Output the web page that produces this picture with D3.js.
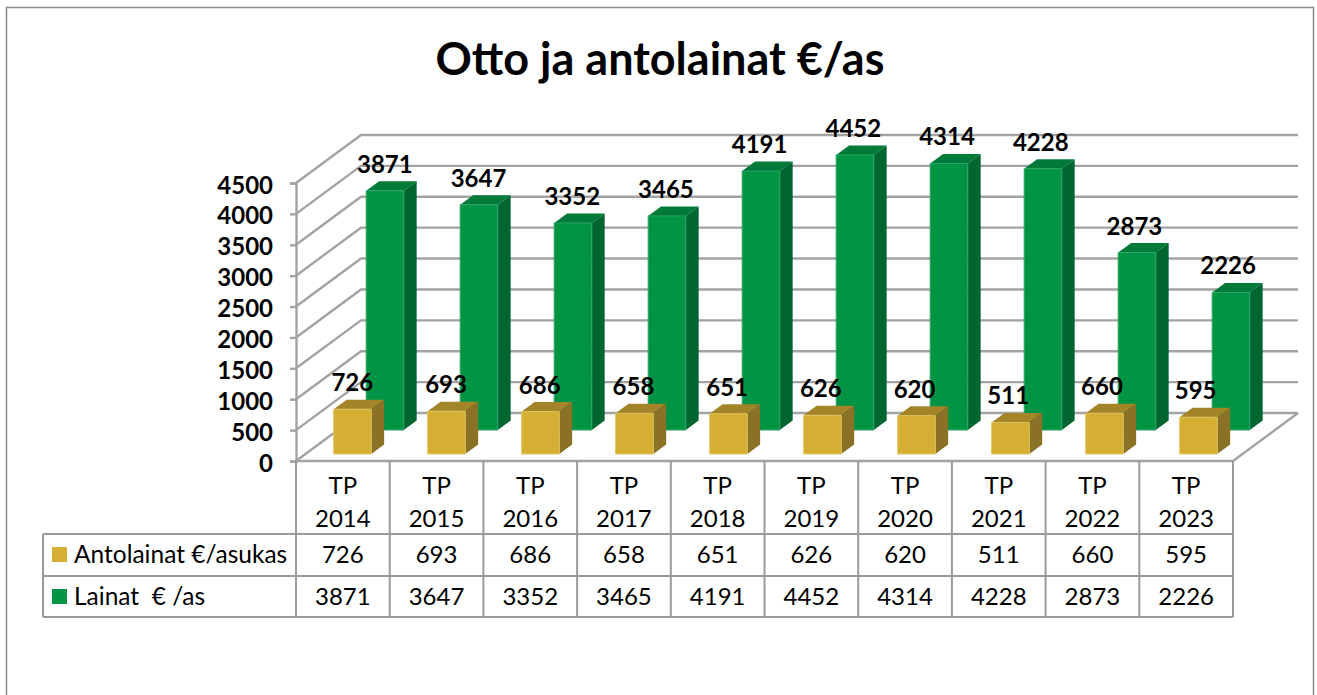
<!DOCTYPE html>
<html>
<head>
<meta charset="utf-8">
<script src="https://cdn.jsdelivr.net/npm/d3@7"></script>
<style>
  html, body { margin: 0; padding: 0; background: #fff; overflow: hidden; }
  svg { display: block; }
  text { font-family: Lato, "Open Sans", sans-serif; fill: #000; }
</style>
</head>
<body>
<svg id="chart" width="1317" height="695"></svg>
<script>
const years = ["2014", "2015", "2016", "2017", "2018", "2019", "2020", "2021", "2022", "2023"];
const antolainat = [726, 693, 686, 658, 651, 626, 620, 511, 660, 595];
const lainat = [3871, 3647, 3352, 3465, 4191, 4452, 4314, 4228, 2873, 2226];
const yTicks = [0, 500, 1000, 1500, 2000, 2500, 3000, 3500, 4000, 4500];
const seriesNames = ["Antolainat €/asukas", "Lainat  € /as"];

const gridColor = "#a3a3a3";
const tableColor = "#9a9a9a";

const svg = d3.select("#chart");

// outer frame, bottom edge falls outside of the picture
svg.append("path")
  .attr("d", "M6.5,695V7.5H1313.5V695")
  .attr("fill", "none")
  .attr("stroke", "#8c8c8c")
  .attr("stroke-width", 1.5);

svg.append("text")
  .attr("x", 660)
  .attr("y", 75)
  .attr("text-anchor", "middle")
  .attr("font-size", 45)
  .attr("font-weight", 700)
  .text("Otto ja antolainat €/as");

const x = d3.scaleBand().domain(years).range([296, 1233]);
// the bars step a little wider than the table columns
const barX = d3.scaleBand().domain(years).range([296, 1236]);
const y = d3.scaleLinear().domain([0, 4500]).range([461, 183]);

// depth of the 3d box: z 0 = front edge, z 1 = back wall
const depthX = 65;
const depthY = -48;
const px = (xv, z) => xv + z * depthX;
const py = (v, z) => y(v) + z * depthY;

// left wall + back wall gridlines
const grid = svg.append("g").attr("fill", "none").attr("stroke", gridColor).attr("stroke-width", 2.4);
yTicks.forEach((t) => {
  grid.append("path")
    .attr("d", d3.line()([[px(296, 0), py(t, 0)], [px(296, 1), py(t, 1)], [px(1233, 1), py(t, 1)]]));
});
// floor right edge
grid.append("path")
  .attr("d", d3.line()([[px(1233, 0), py(0, 0)], [px(1233, 1), py(0, 1)]]));
grid.append("path")
  .attr("d", d3.line()([[px(296, 0), py(0, 0)], [px(1233, 0), py(0, 0)]]));

// value axis
const yAxis = svg.append("g")
  .attr("transform", "translate(296,0)")
  .call(d3.axisLeft(y).tickValues(yTicks).tickSize(6).tickPadding(17).tickFormat(d3.format("d")));
yAxis.selectAll("path, line").attr("stroke", gridColor).attr("stroke-width", 2.4);
yAxis.selectAll("text")
  .attr("dy", "0.42em")
  .attr("font-size", 24)
  .attr("font-weight", 700)
  .attr("font-family", "Lato");

// one 3d bar, front face + top + side
function drawBar(g, year, value, z0, z1, colors) {
  const barW = barX.bandwidth() * 0.4;
  const left = barX(year) + (barX.bandwidth() - barW) / 2;
  const right = left + barW;
  const poly = (pts, fill) => g.append("polygon")
    .attr("points", pts.map((p) => p.join(",")).join(" "))
    .attr("fill", fill);

  poly([[px(left, z0), py(value, z0)], [px(left, z1), py(value, z1)], [px(right, z1), py(value, z1)], [px(right, z0), py(value, z0)]], colors.top);
  poly([[px(right, z0), py(value, z0)], [px(right, z1), py(value, z1)], [px(right, z1), py(0, z1)], [px(right, z0), py(0, z0)]], colors.side);
  poly([[px(left, z0), py(value, z0)], [px(right, z0), py(value, z0)], [px(right, z0), py(0, z0)], [px(left, z0), py(0, z0)]], colors.front)
    .attr("stroke", colors.edge)
    .attr("stroke-width", 1);
}

const greenColors = { front: "#009444", top: "#007a38", side: "#00662f", edge: "#2aa564" };
const goldColors = { front: "#d4af33", top: "#a38428", side: "#8a7125", edge: "#e0c25c" };

const bars = svg.append("g");
years.forEach((yr, i) => drawBar(bars, yr, lainat[i], 0.646, 0.844, greenColors));
years.forEach((yr, i) => drawBar(bars, yr, antolainat[i], 0.146, 0.344, goldColors));

// data labels
const labels = svg.append("g").attr("text-anchor", "middle").attr("font-size", 24).attr("font-weight", 700);
years.forEach((yr, i) => {
  const cx = x(yr) + x.bandwidth() / 2;
  labels.append("text").attr("x", px(cx, 0.646)).attr("y", py(lainat[i], 0.646) - 18).text(lainat[i]);
  labels.append("text").attr("x", px(cx, 0.146)).attr("y", py(antolainat[i], 0.146) - 18).text(antolainat[i]);
});

// data table under the chart
const rowY = [461, 534, 576, 617];
const table = svg.append("g").attr("stroke", tableColor).attr("stroke-width", 2).attr("fill", "none");
[...years.map((d) => x(d)), 1233].forEach((lx) => {
  table.append("line").attr("x1", lx).attr("x2", lx).attr("y1", rowY[0]).attr("y2", rowY[3]);
});
rowY.slice(1).forEach((ly) => {
  table.append("line").attr("x1", 43).attr("x2", 1233).attr("y1", ly).attr("y2", ly);
});
table.append("line").attr("x1", 43).attr("x2", 43).attr("y1", rowY[1]).attr("y2", rowY[3]);

const tableText = svg.append("g").attr("font-size", 24).attr("text-anchor", "middle");
years.forEach((yr, i) => {
  const cx = x(yr) + x.bandwidth() / 2;
  tableText.append("text").attr("x", cx).attr("y", 494).text("TP");
  tableText.append("text").attr("x", cx).attr("y", 527).text(yr);
  tableText.append("text").attr("x", cx).attr("y", 563).text(antolainat[i]);
  tableText.append("text").attr("x", cx).attr("y", 605).text(lainat[i]);
});

// legend keys in the table
[goldColors.front, greenColors.front].forEach((c, i) => {
  svg.append("rect").attr("x", 52).attr("y", rowY[i + 1] + 13).attr("width", 15).attr("height", 15).attr("fill", c);
  svg.append("text")
    .attr("x", 74)
    .attr("y", rowY[i + 1] + 29)
    .attr("font-size", 24.5)
    .style("white-space", "pre")
    .text(seriesNames[i]);
});
</script>
</body>
</html>
